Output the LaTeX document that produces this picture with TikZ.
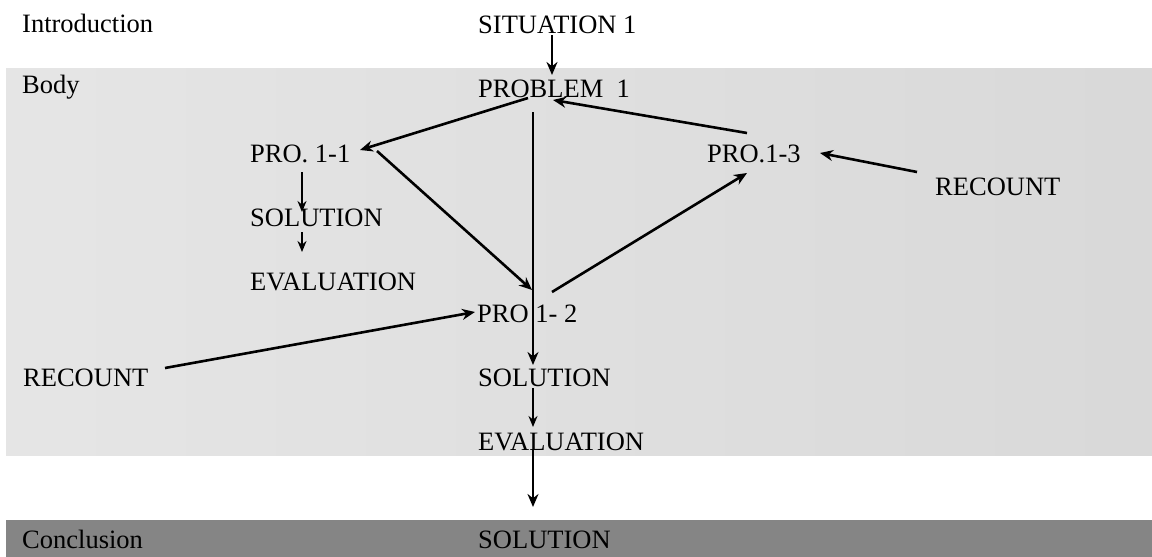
\documentclass[tikz,border=0pt]{standalone}
\usepackage{fontspec}
\setmainfont{Liberation Serif}
\usetikzlibrary{arrows.meta,calc}
\begin{document}
\begin{tikzpicture}[x=1pt,y=-1pt,
  lbl/.style={anchor=base west,inner sep=0pt,font=\fontsize{26.5}{30}\selectfont},
  arr/.style={draw=black,line width=2.6pt,-{Stealth[length=13pt,width=11pt]}},
  thinarr/.style={draw=black,line width=2pt,-{Stealth[length=11pt,width=9pt]}}]
\useasboundingbox (0,0) rectangle (1152,557);
% bands
\shade[left color=black!10,right color=black!15] (6,68) rectangle (1152,455);
\fill[black!48] (6,520) rectangle (1152,557);
% labels
\node[lbl] (intro) at (22,32) {Introduction};
\node[lbl] (sit) at (478,33) {SITUATION 1};
\node[lbl] (body) at (22,93) {Body};
\node[lbl] (prob) at (478,97) {PROBLEM~~1};
\node[lbl] (p11) at (250,162) {PRO. 1-1};
\node[lbl] (sol1) at (250,226) {SOLUTION};
\node[lbl] (eval1) at (250,290) {EVALUATION};
\node[lbl] (p13) at (707,162) {PRO.1-3};
\node[lbl] (rec2) at (935,195) {RECOUNT};
\node[lbl] (p12) at (477,322) {PRO 1- 2};
\node[lbl] (rec1) at (23,386) {RECOUNT};
\node[lbl] (sol2) at (478,386) {SOLUTION};
\node[lbl] (eval2) at (478,450) {EVALUATION};
\node[lbl] (concl) at (22,548) {Conclusion};
\node[lbl] (sol3) at (478,548) {SOLUTION};
% connectors
\draw[arr] ($(sit.base west)+(74,2)$) -- ($(prob.base west)+(74,-22)$);
\draw[arr] ($(prob.base west)+(50,1)$) -- ($(p11.base west)+(110,-12)$);
\draw[arr] ($(p11.base west)+(127,-11)$) -- ($(p12.base west)+(55,-32)$);
\draw[arr] ($(prob.base west)+(55,15)$) -- ($(sol2.base west)+(55,-21)$);
\draw[thinarr] ($(sol2.base west)+(55,2)$) -- ($(eval2.base west)+(55,-23)$);
\draw[arr] ($(eval2.base west)+(55,0)$) -- ($(sol3.base west)+(55,-41)$);
\draw[arr] ($(p12.base west)+(75,-30)$) -- ($(p13.base west)+(40,11)$);
\draw[arr] ($(p13.base west)+(40,-29)$) -- ($(prob.base west)+(75,3)$);
\draw[arr] ($(rec2.base west)+(-18,-23)$) -- ($(p13.base west)+(113,-9)$);
\draw[arr] ($(rec1.base west)+(142,-18)$) -- ($(p12.base west)+(-2,-10)$);
\draw[thinarr] ($(p11.base west)+(52,10)$) -- ($(sol1.base west)+(52,-14)$);
\draw[thinarr] ($(sol1.base west)+(52,6)$) -- ($(eval1.base west)+(52,-38)$);
\end{tikzpicture}
\end{document}
